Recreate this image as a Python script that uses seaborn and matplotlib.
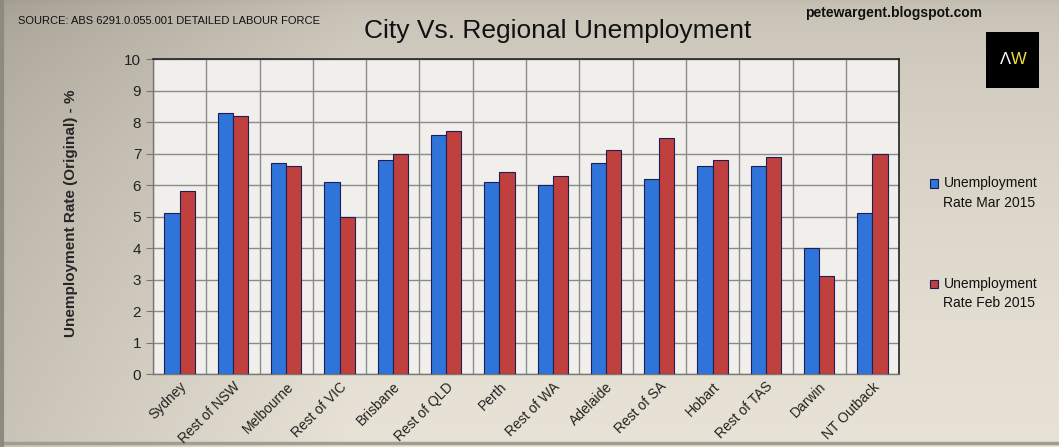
import numpy as np
import pandas as pd
import matplotlib
matplotlib.use("Agg")
import matplotlib.pyplot as plt
import matplotlib.patches as mpatches
from matplotlib.legend_handler import HandlerPatch
import seaborn as sns

regions = ["Sydney", "Rest of NSW", "Melbourne", "Rest of VIC", "Brisbane", "Rest of QLD",
           "Perth", "Rest of WA", "Adelaide", "Rest of SA", "Hobart", "Rest of TAS",
           "Darwin", "NT Outback"]
rate_mar_2015 = [5.1, 8.3, 6.7, 6.1, 6.8, 7.6, 6.1, 6.0, 6.7, 6.2, 6.6, 6.6, 4.0, 5.1]
rate_feb_2015 = [5.8, 8.2, 6.6, 5.0, 7.0, 7.7, 6.4, 6.3, 7.1, 7.5, 6.8, 6.9, 3.1, 7.0]
series_names = ["Unemployment\nRate Mar 2015", "Unemployment\nRate Feb 2015"]
y_ticks = list(range(0, 11))

colors = ["#2f74d9", "#c0403d"]
bar_edge = "#1e1e55"

df = pd.DataFrame({
    "region": regions * 2,
    "rate": rate_mar_2015 + rate_feb_2015,
    "series": [series_names[0]] * len(regions) + [series_names[1]] * len(regions),
})

sns.set_style("white")
plt.rcParams["font.family"] = ["Liberation Sans", "DejaVu Sans"]

fig = plt.figure(figsize=(10.59, 4.47), dpi=100)

# beige gradient background
bg = fig.add_axes([0, 0, 1, 1], zorder=-10)
yy, xx = np.mgrid[0:1:200j, 0:1:400j]
t = np.clip(0.55 * np.sqrt(yy) + 0.45 * np.clip(xx * 3, 0, 1), 0, 1)
top = np.array([0.64, 0.62, 0.57])
bot = np.array([0.91, 0.89, 0.84])
img = top[None, None, :] * (1 - t[..., None]) + bot[None, None, :] * t[..., None]
bg.imshow(img, aspect="auto", extent=[0, 1, 0, 1], origin="upper")
bg.axhline(0.008, color="#a29d8f", lw=2.5)
bg.axvline(0.002, color="#8f8a7e", lw=3)
bg.set_xlim(0, 1)
bg.set_ylim(0, 1)
bg.axis("off")

ax = fig.add_axes([0.1445, 0.1633, 0.7045, 0.7047])
ax.set_facecolor("#f1efec")
sns.barplot(data=df, x="region", y="rate", hue="series",
            palette=colors, saturation=1, width=0.57,
            edgecolor=bar_edge, linewidth=0.8, ax=ax, zorder=3, legend=False)

ax.set_ylim(0, 10)
ax.set_xlim(-0.5, len(regions) - 0.5)
ax.set_yticks(y_ticks)
ax.set_yticklabels([str(v) for v in y_ticks], fontsize=11, color="#222222")
ax.set_xticks(np.arange(len(regions)) - 0.5, minor=True)
ax.tick_params(axis="x", which="major", length=0, pad=4)
ax.tick_params(axis="x", which="minor", length=5, color="#777777", direction="out")
ax.tick_params(axis="y", length=5, color="#777777", direction="out", left=True)
ax.set_xticks(range(len(regions)))
ax.set_xticklabels(regions, rotation=45, ha="right", rotation_mode="anchor",
                   fontsize=10, color="#222222")
ax.grid(axis="y", color="#8a8a8a", lw=1, zorder=1)
ax.grid(axis="x", which="minor", color="#8a8a8a", lw=1, zorder=1)
ax.grid(axis="x", which="major", visible=False)
ax.set_axisbelow(True)
ax.set_xlabel("")
ax.set_ylabel("Unemployment Rate (Original) - %", fontsize=11, fontweight="bold")
ax.yaxis.set_label_coords(-0.1, 0.51)
for side in ["top", "right"]:
    ax.spines[side].set_color("#222222")
    ax.spines[side].set_linewidth(1.2)
for side in ["left", "bottom"]:
    ax.spines[side].set_color("#777777")
    ax.spines[side].set_linewidth(1)


# legend square sits next to the first line of each label
def top_square(legend, orig_handle, xdescent, ydescent, width, height, fontsize):
    return mpatches.Rectangle((-xdescent, -ydescent + 0.72 * fontsize), width, height)


handles = [mpatches.Patch(facecolor=c, edgecolor=bar_edge, linewidth=0.8) for c in colors]
leg = ax.legend(handles, series_names, loc="center left", bbox_to_anchor=(1.025, 0.415),
                frameon=False, fontsize=10, labelspacing=4.85, handlelength=0.55,
                handleheight=0.55, handletextpad=0.4,
                handler_map={mpatches.Patch: HandlerPatch(patch_func=top_square)})
for txt in leg.get_texts():
    txt.set_color("#111111")
    txt.set_linespacing(1.5)

fig.text(0.527, 0.93, "City Vs. Regional Unemployment", ha="center", va="center",
         fontsize=19, color="#111111")
fig.text(0.017, 0.952, "SOURCE: ABS 6291.0.055.001 DETAILED LABOUR FORCE", ha="left",
         va="center", fontsize=8, color="#111111")
fig.text(0.76, 0.971, "petewargent.blogspot.com", ha="left", va="center",
         fontsize=10, fontweight="bold", color="#111111")

# logo
logo = fig.add_axes([986 / 1059, 1 - 88 / 447, 53 / 1059, 56 / 447])
logo.set_facecolor("black")
logo.set_xticks([])
logo.set_yticks([])
for s in logo.spines.values():
    s.set_visible(False)
logo.text(0.36, 0.5, "\u039b", color="white", ha="center", va="center", fontsize=12)
logo.text(0.62, 0.5, "W", color="#f2e33a", ha="center", va="center", fontsize=12)

fig.savefig("out.png", dpi=100)
